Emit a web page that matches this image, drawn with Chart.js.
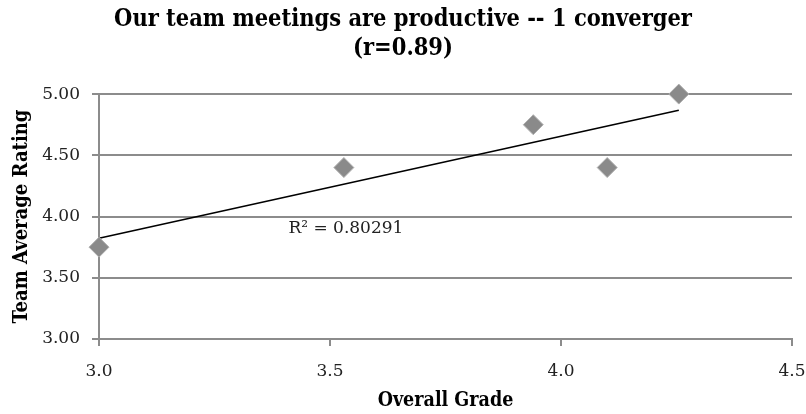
<!DOCTYPE html>
<html>
<head>
<meta charset="utf-8">
<script src="https://cdn.jsdelivr.net/npm/chart.js@4"></script>
<style>
html,body{margin:0;padding:0;background:#fff;}
#wrap{width:806px;height:414px;}
</style>
</head>
<body>
<div id="wrap"><canvas id="c" width="806" height="414"></canvas></div>
<script>
const titleLines = ["Our team meetings are productive -- 1 converger", "(r=0.89)"];
const xTitle = "Overall Grade";
const yTitle = "Team Average Rating";
const overallGrade = [3.0, 3.53, 3.94, 4.10, 4.255];
const teamRating = [3.75, 4.40, 4.75, 4.40, 5.00];
const rSquaredLabel = "R\u00B2 = 0.80291";
const xTicks = [3.0, 3.5, 4.0, 4.5];
const yTicks = [3.0, 3.5, 4.0, 4.5, 5.0];

// least-squares trendline from the data
const n = overallGrade.length;
const mx = overallGrade.reduce((a,b)=>a+b,0)/n;
const my = teamRating.reduce((a,b)=>a+b,0)/n;
let sxy=0, sxx=0;
for (let i=0;i<n;i++){ sxy += (overallGrade[i]-mx)*(teamRating[i]-my); sxx += (overallGrade[i]-mx)**2; }
const slope = sxy/sxx, icpt = my - slope*mx;
const xMin = Math.min(...overallGrade), xMax = Math.max(...overallGrade);
const trend = [{x:xMin, y:icpt+slope*xMin},{x:xMax, y:icpt+slope*xMax}];

const SERIF = '"DejaVu Serif", serif';
const COND = '"DejaVu Serif Condensed", "DejaVu Serif", serif';

const labelPlugin = {
  id:'r2label',
  afterDatasetsDraw(chart, args, opts){
    const {ctx, scales:{x,y}} = chart;
    ctx.save();
    ctx.font = '17px ' + SERIF;
    ctx.fillStyle = '#222';
    ctx.textBaseline = 'middle';
    ctx.textAlign = 'left';
    ctx.fillText(opts.text, x.getPixelForValue(opts.x), y.getPixelForValue(opts.y));
    ctx.restore();
  }
};

new Chart(document.getElementById('c'), {
  type:'scatter',
  data:{
    datasets:[
      {
        label:'Team Average Rating',
        data: overallGrade.map((v,i)=>({x:v, y:teamRating[i]})),
        pointStyle:'rectRot',
        pointRadius:10,
        pointHoverRadius:10,
        backgroundColor:'#8a8a8a',
        borderColor:'#b0b0b0',
        borderWidth:1,
        clip:false,
        order:1
      },
      {
        type:'line',
        label:'Trend',
        data: trend,
        borderColor:'#000',
        borderWidth:1.6,
        pointRadius:0,
        fill:false,
        clip:false,
        order:2
      }
    ]
  },
  options:{
    responsive:false,
    animation:false,
    layout:{padding:{left:0, right:0, top:0, bottom:0}},
    plugins:{
      legend:{display:false},
      tooltip:{enabled:false},
      title:{
        display:true,
        text:titleLines,
        color:'#000',
        font:{family:COND, size:23.4, weight:'bold', lineHeight:1.22},
        padding:{top:6, bottom:31}
      },
      r2label:{text:rSquaredLabel, x:3.41, y:3.9}
    },
    scales:{
      x:{
        type:'linear',
        min:3.0, max:4.5,
        afterBuildTicks(ax){ ax.ticks = xTicks.map(v=>({value:v})); },
        afterFit(ax){ ax.height = 75; ax.paddingLeft = 0; ax.paddingRight = 14; },
        ticks:{
          callback:(v)=>Number(v).toFixed(1),
          color:'#222',
          font:{family:SERIF, size:17},
          padding:15,
          maxRotation:0
        },
        grid:{display:true, drawOnChartArea:false, drawTicks:true, tickLength:7, color:'#8c8c8c', lineWidth:2},
        border:{display:true, color:'#8c8c8c', width:2},
        title:{display:true, text:xTitle, color:'#000', font:{family:COND, size:19.5, weight:'bold', lineHeight:1.2}, padding:{top:0,bottom:1}}
      },
      y:{
        type:'linear',
        min:3.0, max:5.0,
        afterBuildTicks(ax){ ax.ticks = yTicks.map(v=>({value:v})); },
        afterFit(ax){ ax.width = 99; ax.paddingTop = 0; ax.paddingBottom = 0; },
        ticks:{
          callback:(v)=>Number(v).toFixed(2),
          color:'#222',
          font:{family:SERIF, size:17},
          padding:12
        },
        grid:{display:true, drawOnChartArea:true, drawTicks:true, tickLength:7, color:'#8c8c8c', lineWidth:2},
        border:{display:true, color:'#8c8c8c', width:2},
        title:{display:true, text:yTitle, color:'#000', font:{family:COND, size:20, weight:'bold', lineHeight:1.2}, padding:{top:10,bottom:0}}
      }
    }
  },
  plugins:[labelPlugin]
});
</script>
</body>
</html>
